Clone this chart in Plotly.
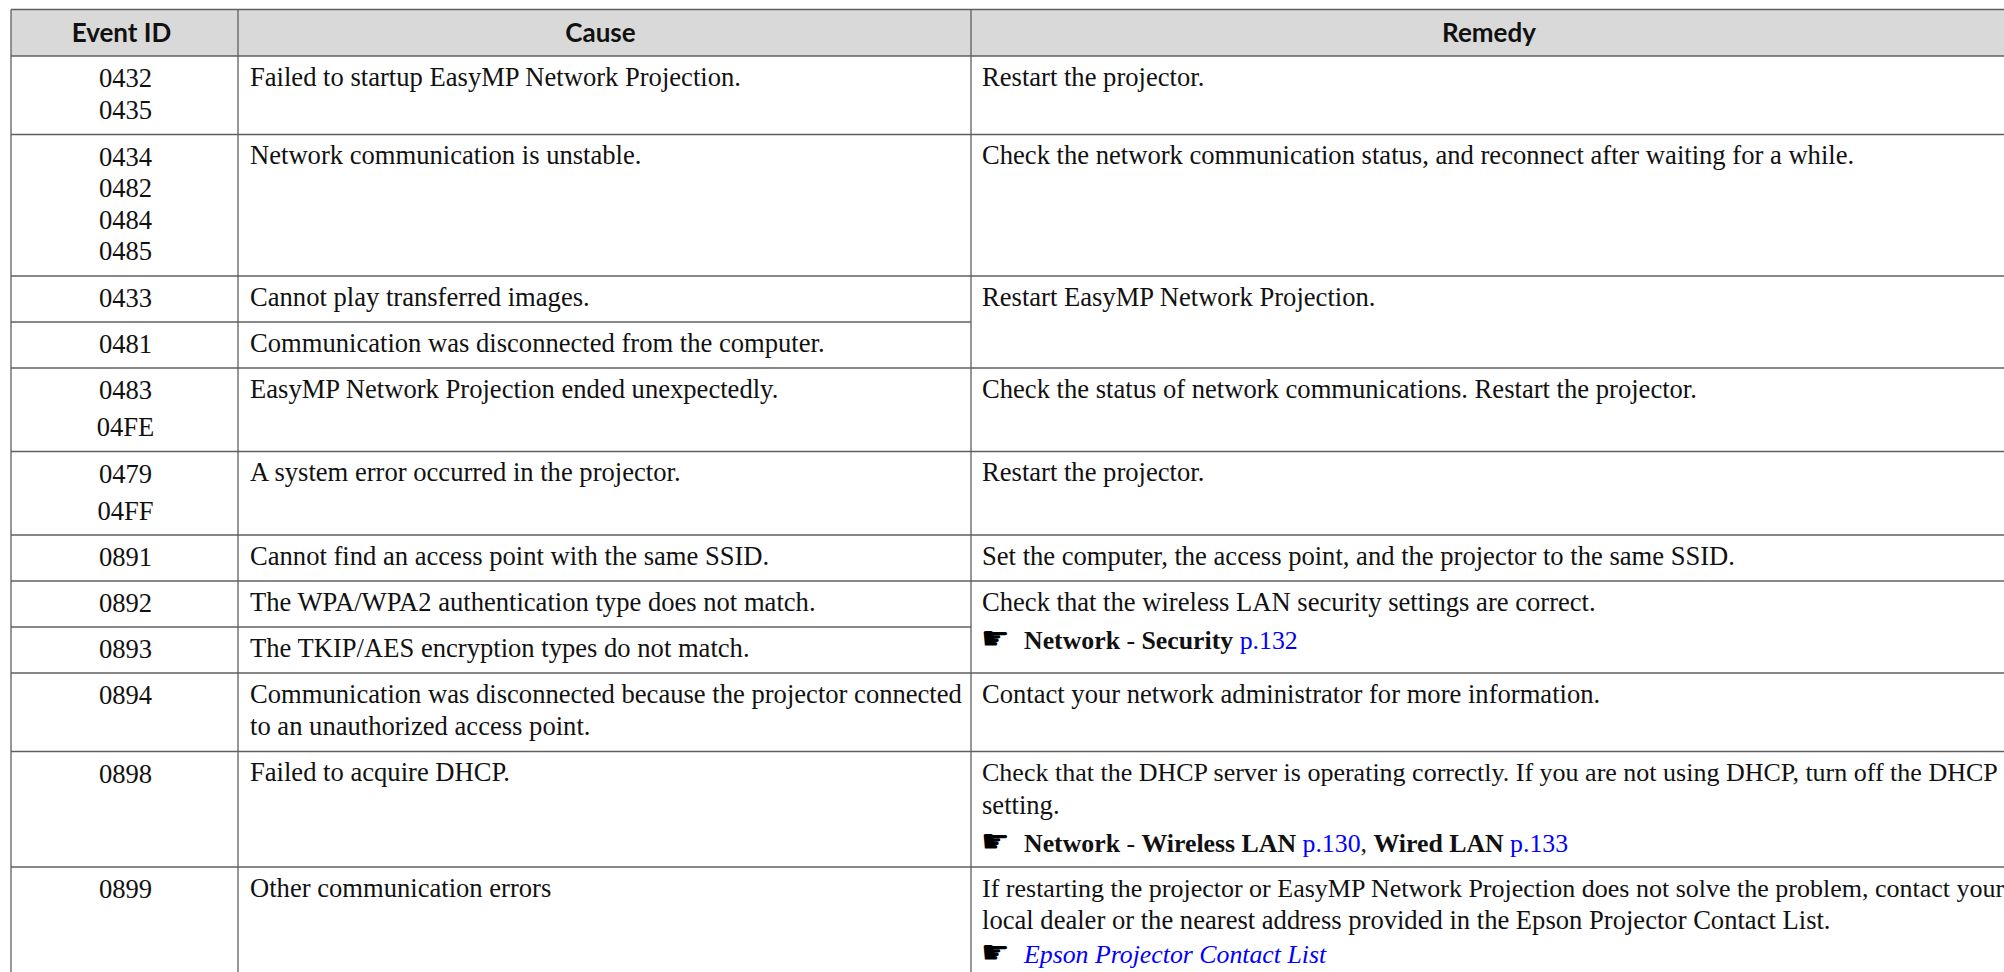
import plotly.graph_objects as go

# ---------- table content ----------
headers = ["Event ID", "Cause", "Remedy"]
event_ids = [["0432", "0435"], ["0434", "0482", "0484", "0485"], ["0433"], ["0481"], ["0483", "04FE"],
             ["0479", "04FF"], ["0891"], ["0892"], ["0893"], ["0894"], ["0898"], ["0899"]]
causes = [["Failed to startup EasyMP Network Projection."],
          ["Network communication is unstable."],
          ["Cannot play transferred images."],
          ["Communication was disconnected from the computer."],
          ["EasyMP Network Projection ended unexpectedly."],
          ["A system error occurred in the projector."],
          ["Cannot find an access point with the same SSID."],
          ["The WPA/WPA2 authentication type does not match."],
          ["The TKIP/AES encryption types do not match."],
          ["Communication was disconnected because the projector connected", "to an unauthorized access point."],
          ["Failed to acquire DHCP."],
          ["Other communication errors"]]
BLUE = "#0000ff"
def link(t):
    return f'<span style="color:{BLUE}">{t}</span>'
remedies = [(0, ["Restart the projector."]),
            (1, ["Check the network communication status, and reconnect after waiting for a while."]),
            (2, ["Restart EasyMP Network Projection."]),
            (4, ["Check the status of network communications. Restart the projector."]),
            (5, ["Restart the projector."]),
            (6, ["Set the computer, the access point, and the projector to the same SSID."]),
            (7, ["Check that the wireless LAN security settings are correct."]),
            (9, ["Contact your network administrator for more information."]),
            (10, ["Check that the DHCP server is operating correctly. If you are not using DHCP, turn off the DHCP", "setting."]),
            (11, ["If restarting the projector or EasyMP Network Projection does not solve the problem, contact your",
                  "local dealer or the nearest address provided in the Epson Projector Contact List."])]
references = [(7, "<b>Network</b> - <b>Security</b> " + link("p.132")),
              (10, "<b>Network</b> - <b>Wireless LAN</b> " + link("p.130") + ", <b>Wired LAN</b> " + link("p.133")),
              (11, f'<i>{link("Epson Projector Contact List")}</i>')]
POINTER = "\u261b"
tight_lines = {"Check that the DHCP server is operating correctly. If you are not using DHCP, turn off the DHCP",
               "If restarting the projector or EasyMP Network Projection does not solve the problem, contact your"}

# ---------- table geometry ----------
col_edges = [11, 238, 971, 2010]
row_edges = [9.5, 56, 134.5, 276, 322, 368, 451.5, 535, 581, 627, 673, 751.5, 867, 985]
FIRST = 23          # first-line centre below the row's top edge
ID_SHIFT = 1.5      # digits sit a little lower than the mixed-case lines
PITCH = 31.5        # line pitch, Event ID column
HEX_PITCH = 37      # pitch before the 04xx lines
REM_PITCH = 32.5    # line pitch in Cause / Remedy
REF_PITCH = 38.5    # pitch before a pointer line
ROW_TOPS = row_edges[1:-1]
PAD = 12
REF_INDENT = 42
LINE = "#5f5f5f"
SERIF = "Liberation Serif"
SIZE = 26.6
TIGHT_SIZE = 26
REF_SIZE = 25.8

no_remedy_rule = {3, 8}  # rule above these rows stops at the Remedy column

# ---------- build text positions ----------
id_x, id_y, id_t = [], [], []
for r, lines in enumerate(event_ids):
    y = ROW_TOPS[r] + FIRST + ID_SHIFT
    for i, t in enumerate(lines):
        if i:
            y += HEX_PITCH if t.startswith("04F") else PITCH
        id_x.append((col_edges[0] + col_edges[1]) / 2 + 1); id_y.append(y); id_t.append(t)

tx, ty, tt = [], [], []
for r, lines in enumerate(causes):
    for i, t in enumerate(lines):
        tx.append(col_edges[1] + PAD); ty.append(ROW_TOPS[r] + FIRST + i * REM_PITCH); tt.append(t)
last_y = {}
for r, lines in remedies:
    for i, t in enumerate(lines):
        y = ROW_TOPS[r] + FIRST + i * REM_PITCH
        tx.append(col_edges[2] + PAD - 1); ty.append(y); tt.append(t)
        last_y[r] = y
px, py, ref_x, ref_y, ref_t, hand_t = [], [], [], [], [], []
for r, t in references:
    y = last_y[r] + REF_PITCH
    if r == 11:
        y = last_y[r] + 34
    px.append(col_edges[2] + PAD - 2); py.append(y - 2); hand_t.append(POINTER)
    ref_x.append(col_edges[2] + PAD - 1 + REF_INDENT); ref_y.append(y); ref_t.append(t)
sizes = [TIGHT_SIZE if t in tight_lines else SIZE for t in tt]

fig = go.Figure()
# header band
fig.add_trace(go.Scatter(x=[col_edges[0], 2010, 2010, col_edges[0], col_edges[0]],
                         y=[row_edges[0], row_edges[0], row_edges[1], row_edges[1], row_edges[0]],
                         mode="lines", fill="toself", fillcolor="#d9d9d9", line=dict(width=0), hoverinfo="skip"))
# rules
hx, hy = [], []
for i, y in enumerate(row_edges[:-1]):
    rowi = i - 1
    right = col_edges[2] if rowi in no_remedy_rule else 2010
    hx += [col_edges[0], right, None]; hy += [y, y, None]
fig.add_trace(go.Scatter(x=hx, y=hy, mode="lines", line=dict(color=LINE, width=1.6), hoverinfo="skip"))
vx, vy = [], []
for x in col_edges[:-1]:
    vx += [x, x, None]; vy += [row_edges[0], 980, None]
fig.add_trace(go.Scatter(x=vx, y=vy, mode="lines", line=dict(color=LINE, width=1.3), hoverinfo="skip"))

centres = [(col_edges[0] + col_edges[1]) / 2 - 3, (col_edges[1] + col_edges[2]) / 2 - 4, (col_edges[2] + 2007) / 2]
fig.add_trace(go.Scatter(x=centres, y=[35] * 3, text=[f"<b>{h}</b>" for h in headers], mode="text",
                         textposition="middle center", textfont=dict(family="Lato", size=26, color="#111")))
fig.add_trace(go.Scatter(x=id_x, y=id_y, text=id_t, mode="text", textposition="middle center",
                         textfont=dict(family=SERIF, size=SIZE, color="#111")))
fig.add_trace(go.Scatter(x=tx, y=ty, text=tt, mode="text", textposition="middle right",
                         textfont=dict(family=SERIF, size=sizes, color="#111")))
fig.add_trace(go.Scatter(x=ref_x, y=ref_y, text=ref_t, mode="text", textposition="middle right",
                         textfont=dict(family=SERIF, size=REF_SIZE, color="#111")))
fig.add_trace(go.Scatter(x=px, y=py, text=hand_t, mode="text", textposition="middle right",
                         textfont=dict(family="DejaVu Sans", size=32, color="#000")))

fig.update_layout(width=2004, height=972, margin=dict(l=0, r=0, t=0, b=0), showlegend=False,
                  paper_bgcolor="white", plot_bgcolor="white",
                  xaxis=dict(range=[0, 2004], visible=False, fixedrange=True),
                  yaxis=dict(range=[972, 0], visible=False, fixedrange=True))
fig.write_html("out.html", config=dict(displayModeBar=False),
               post_script="document.body.style.margin='0';document.documentElement.style.overflow='hidden';")
